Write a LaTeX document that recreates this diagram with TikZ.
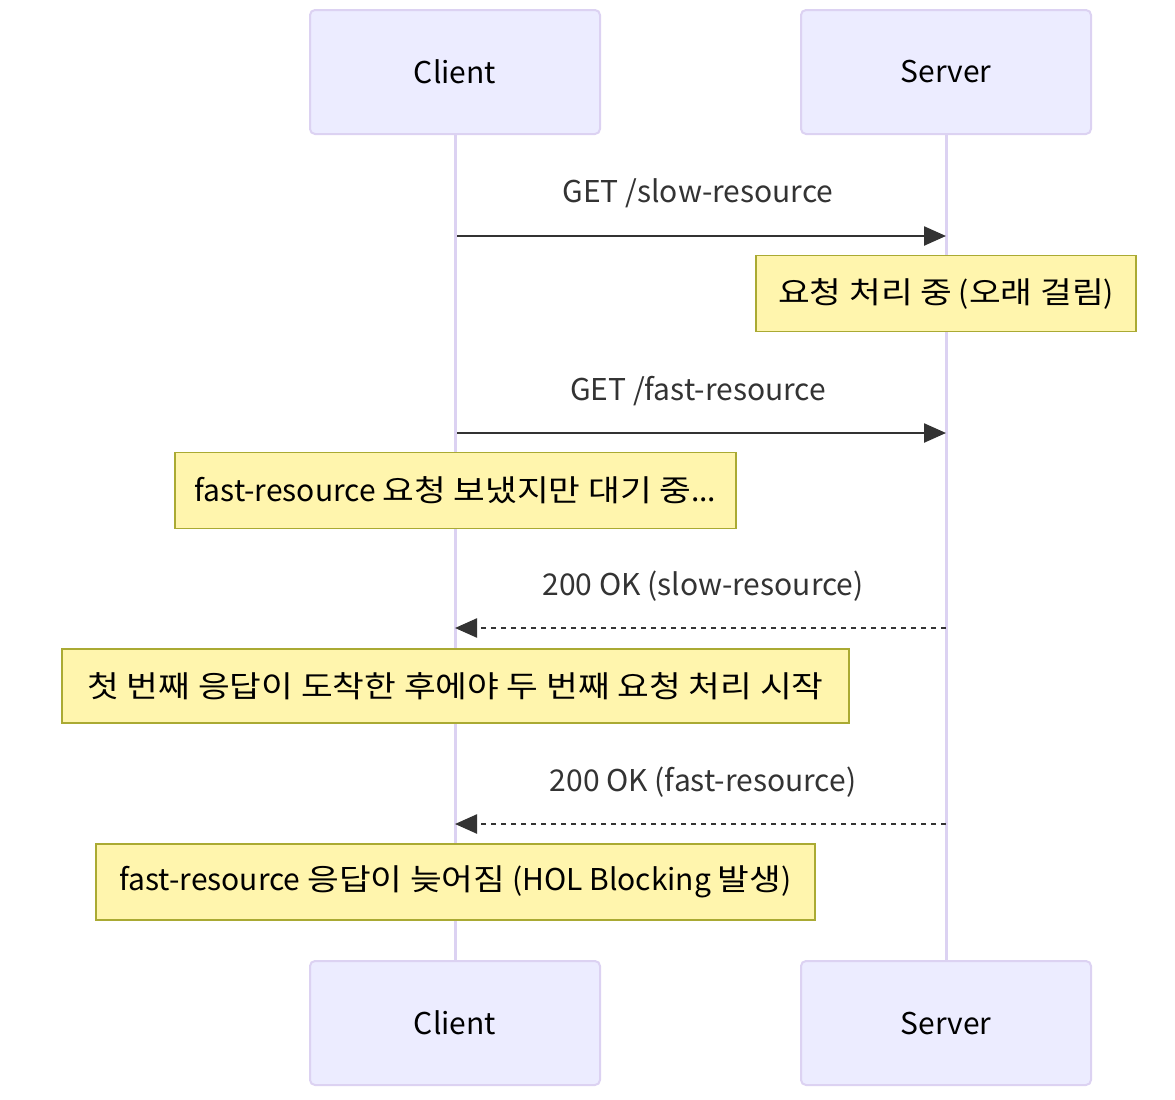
\documentclass[tikz,border=0pt]{standalone}
\usepackage{fontspec}
\setmainfont{Noto Sans CJK KR}
\newfontfamily\krfont[FakeStretch=1.15]{Noto Sans CJK KR}
\newcommand{\kr}[1]{{\krfont #1}}
\usetikzlibrary{arrows.meta}
\definecolor{actfill}{HTML}{ECECFF}
\definecolor{actline}{HTML}{DCD2F2}
\definecolor{notefill}{HTML}{FFF5AD}
\definecolor{noteline}{HTML}{AAAA33}
\definecolor{msg}{HTML}{333333}
\tikzset{
  actor/.style={draw=actline, fill=actfill, line width=2pt, rounded corners=5pt, minimum width=290pt, minimum height=124pt, font=\fontsize{30}{36}\selectfont, text=black},
  notebox/.style={draw=noteline, fill=notefill, line width=1.5pt, minimum height=76pt, font=\fontsize{30}{36}\selectfont, text=black},
  lifeline/.style={draw=actline, line width=3pt},
  msgline/.style={draw=msg, line width=2.4pt, -{Triangle[length=22pt,width=19pt]}},
  msglabel/.style={font=\fontsize{30}{36}\selectfont, text=msg},
}
\begin{document}
\begin{tikzpicture}[x=1pt,y=-1pt]
\useasboundingbox (0,0) rectangle (1175,1100);
\node[actor] (c1) at (455,72) {Client};
\node[actor] (s1) at (946,72) {Server};
\node[actor] (c2) at (455,1023) {Client};
\node[actor] (s2) at (946,1023) {Server};
\draw[lifeline] (c1.south) -- (c2.north);
\draw[lifeline] (s1.south) -- (s2.north);
% message 1
\coordinate (m1a) at (457,236);
\coordinate (m1b) at (946,236);
\draw[msgline] (m1a) -- (m1b);
\node[msglabel] (l1) at (698,193) {GET /slow-resource};
\node[notebox, minimum width=380pt] (n1) at (946,293.5) {\kr{요청 처리 중} (\kr{오래 걸림})};
% message 2
\coordinate (m2a) at (457,433);
\coordinate (m2b) at (946,433);
\draw[msgline] (m2a) -- (m2b);
\node[msglabel] (l2) at (698,391) {GET /fast-resource};
\node[notebox, minimum width=561pt] (n2) at (455.5,490.5) {fast-resource \kr{요청 보냈지만 대기 중}...};
% message 3
\coordinate (m3a) at (946,628);
\coordinate (m3b) at (455,628);
\draw[msgline, dash pattern=on 5pt off 5pt] (m3a) -- (m3b);
\node[msglabel] (l3) at (703,586) {200 OK (slow-resource)};
\node[notebox, minimum width=787pt, minimum height=74pt] (n3) at (455.5,686) {\kr{첫 번째 응답이 도착한 후에야 두 번째 요청 처리 시작}};
% message 4
\coordinate (m4a) at (946,824);
\coordinate (m4b) at (455,824);
\draw[msgline, dash pattern=on 5pt off 5pt] (m4a) -- (m4b);
\node[msglabel] (l4) at (703,782) {200 OK (fast-resource)};
\node[notebox, minimum width=719pt] (n4) at (455.5,882) {fast-resource \kr{응답이 늦어짐} (HOL Blocking \kr{발생})};
\end{tikzpicture}
\end{document}
